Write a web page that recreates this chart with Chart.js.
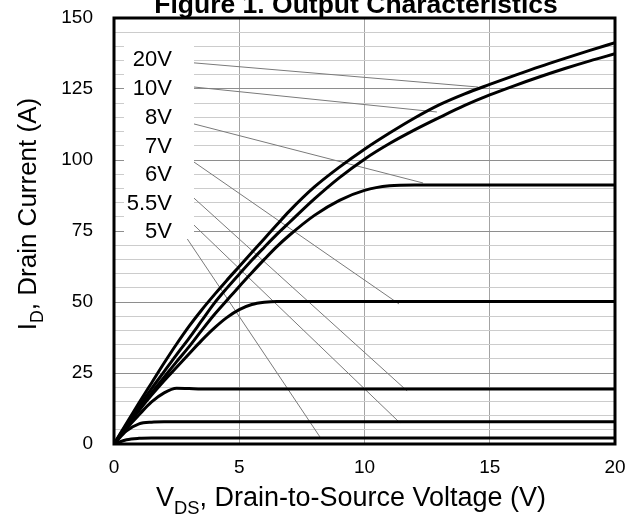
<!DOCTYPE html>
<html><head><meta charset="utf-8">
<script src="https://cdn.jsdelivr.net/npm/chart.js@4/dist/chart.umd.min.js"></script>
<style>html,body{margin:0;padding:0;background:#fff}</style>
</head><body>
<canvas id="c" width="628" height="518"></canvas>
<script>
// ---- data ----
const vds = [0,0.5,1,1.5,2,2.5,3,3.5,4,4.5,5,5.5,6,6.5,7,8,9,10,11,12,13,14,15,16,17,18,19,20];
const id20V = [0,7.3,14.5,21.5,28.5,35.2,41.5,47.2,52.5,57.6,62.5,67.4,72.3,77.2,82,90.5,97.5,103.8,109.5,114.8,119.5,123.3,126.6,129.8,132.9,135.8,138.6,141.3];
const id10V = [0,6.8,13.3,19.5,25.5,31.5,37.3,43.4,49.5,54.8,59.8,64.7,69.3,73.8,78,86.3,93.8,100.3,105.8,110.6,115,119.2,122.9,126.2,129.3,132.2,134.9,137.4];
const id8V  = [0,6.3,12.3,18,23.5,29,34.3,40,45.5,50.5,55.5,60.3,65,69.5,73.5,80.5,85.8,89.3,90.9,91.2,91.2,91.2,91.2,91.2,91.2,91.2,91.2,91.2];
const id7V  = [0,6,11.8,17.2,22.3,27,31.8,36.5,40.8,44.5,47.3,49.1,49.9,50.2,50.2,50.2,50.2,50.2,50.2,50.2,50.2,50.2,50.2,50.2,50.2,50.2,50.2,50.2];
const id6V  = [0,5.5,10.3,14.8,18,19.6,19.5,19.4,19.4,19.4,19.4,19.4,19.4,19.4,19.4,19.4,19.4,19.4,19.4,19.4,19.4,19.4,19.4,19.4,19.4,19.4,19.4,19.4];
const id55V = [0,4.6,7.1,7.7,7.8,7.8,7.8,7.8,7.8,7.8,7.8,7.8,7.8,7.8,7.8,7.8,7.8,7.8,7.8,7.8,7.8,7.8,7.8,7.8,7.8,7.8,7.8,7.8];
const id5V  = [0,1.5,2.0,2.1,2.1,2.1,2.1,2.1,2.1,2.1,2.1,2.1,2.1,2.1,2.1,2.1,2.1,2.1,2.1,2.1,2.1,2.1,2.1,2.1,2.1,2.1,2.1,2.1];
const seriesLabels = ['20V','10V','8V','7V','6V','5.5V','5V'];
const seriesValues = [id20V,id10V,id8V,id7V,id6V,id55V,id5V];
// leader lines: [V, I] start and end points
const leaderFrom = [[3.19,134.2],[3.19,125.7],[3.19,112.7],[3.19,99.3],[3.19,86.6],[3.19,77.1],[2.63,76.1]];
const leaderTo   = [[14.53,125.7],[12.89,116.9],[12.34,91.9],[11.38,49.3],[11.70,18.7],[11.42,7.4],[8.22,2.5]];
const xTicks = [0,5,10,15,20];
const yTicks = [0,25,50,75,100,125,150];
const titleText = 'Figure 1. Output Characteristics';

const FONT = '"Liberation Sans", Arial, sans-serif';

const datasets = [];
seriesValues.forEach((vals, k) => {
  datasets.push({
    label: seriesLabels[k],
    data: vds.map((v, i) => ({x: v, y: vals[i]})),
    borderColor: '#000', borderWidth: 3, pointRadius: 0,
    cubicInterpolationMode: 'monotone', fill: false, order: 1
  });
});
leaderFrom.forEach((p, k) => {
  datasets.push({
    label: 'leader ' + seriesLabels[k],
    data: [{x: p[0], y: p[1]}, {x: leaderTo[k][0], y: leaderTo[k][1]}],
    borderColor: '#7a7a7a', borderWidth: 1, pointRadius: 0, fill: false, order: 2
  });
});

function drawParts(ctx, parts, size) {
  let x = 0;
  parts.forEach(p => {
    const s = p.sub ? size * 0.68 : size;
    ctx.font = s + 'px ' + FONT;
    ctx.fillText(p.t, x, p.sub ? size * 0.28 : 0);
    x += ctx.measureText(p.t).width;
  });
  return x;
}
function measureParts(ctx, parts, size) {
  let w = 0;
  parts.forEach(p => {
    const s = p.sub ? size * 0.68 : size;
    ctx.font = s + 'px ' + FONT;
    w += ctx.measureText(p.t).width;
  });
  return w;
}

function noPad(s) { s.paddingTop = 0; s.paddingBottom = 0; s.paddingLeft = 0; s.paddingRight = 0; }

const decor = {
  id: 'decor',
  afterDatasetsDraw(chart) {
    const ctx = chart.ctx, a = chart.chartArea;
    ctx.save();
    // label box
    ctx.fillStyle = '#fff';
    ctx.fillRect(124, 45, 70, 194);
    // series labels
    ctx.fillStyle = '#000';
    ctx.font = '22px ' + FONT;
    ctx.textAlign = 'right';
    ctx.textBaseline = 'middle';
    const labY = [60, 88.5, 117.5, 146.5, 175, 203.5, 232];
    seriesLabels.forEach((t, k) => ctx.fillText(t, 172, labY[k]));
    // plot frame
    ctx.strokeStyle = '#000';
    ctx.lineWidth = 3;
    ctx.strokeRect(a.left, a.top, a.right - a.left, a.bottom - a.top);
    // title
    ctx.textAlign = 'center';
    ctx.textBaseline = 'alphabetic';
    ctx.font = 'bold 26.5px ' + FONT;
    ctx.fillText(titleText, 356, 12.5);
    // x axis title
    ctx.textAlign = 'left';
    const xParts = [{t:'V'},{t:'DS',sub:true},{t:', Drain-to-Source Voltage (V)'}];
    const wx = measureParts(ctx, xParts, 27);
    ctx.save();
    ctx.translate(351 - wx / 2, 506);
    drawParts(ctx, xParts, 27);
    ctx.restore();
    // y axis title
    const yParts = [{t:'I'},{t:'D',sub:true},{t:', Drain Current (A)'}];
    const wy = measureParts(ctx, yParts, 26);
    ctx.save();
    ctx.translate(36, 214 + wy / 2);
    ctx.rotate(-Math.PI / 2);
    drawParts(ctx, yParts, 26);
    ctx.restore();
    ctx.restore();
  }
};

new Chart(document.getElementById('c'), {
  type: 'line',
  data: { datasets },
  options: {
    responsive: false, maintainAspectRatio: false, animation: false,
    layout: { padding: { top: 18, right: 13, left: 0, bottom: 0 } },
    plugins: { legend: { display: false }, tooltip: { enabled: false }, title: { display: false } },
    scales: {
      x: {
        type: 'linear', min: 0, max: 20,
        afterFit(s) { s.height = 74; noPad(s); },
        afterBuildTicks(s) { s.ticks = xTicks.map(v => ({value: v})); },
        ticks: { color: '#000', font: { family: FONT, size: 19 }, padding: 12, maxRotation: 0 },
        grid: { color: '#a3a3a3', lineWidth: 1, drawTicks: false },
        border: { display: false }
      },
      y: {
        type: 'linear', min: 0, max: 150,
        afterFit(s) { s.width = 114; noPad(s); },
        afterBuildTicks(s) {
          const t = [];
          for (let v = 0; v <= 150; v += 5) t.push({value: v});
          s.ticks = t;
        },
        ticks: {
          color: '#000', font: { family: FONT, size: 19 }, padding: 21, autoSkip: false,
          callback: v => yTicks.includes(v) ? String(v) : ''
        },
        grid: {
          color: c => (c.tick && c.tick.value % 25 === 0) ? '#8e8e8e' : '#cccccc',
          lineWidth: 1, drawTicks: false
        },
        border: { display: false }
      }
    }
  },
  plugins: [decor]
});
</script>
</body></html>
